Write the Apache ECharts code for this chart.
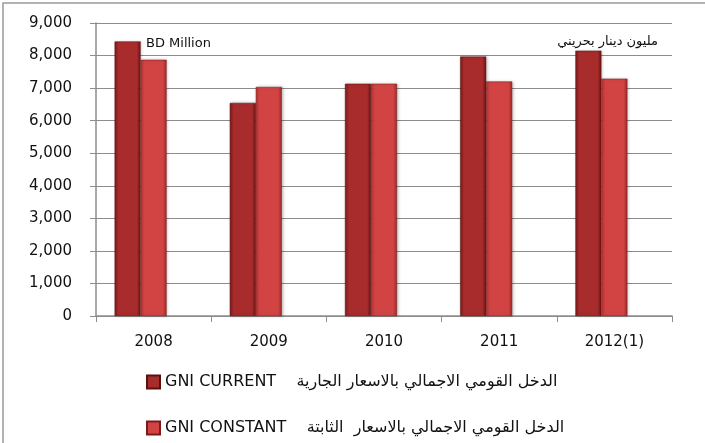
<!DOCTYPE html>
<html><head><meta charset="utf-8">
<script src="https://cdn.jsdelivr.net/npm/echarts@6/dist/echarts.min.js"></script>
<style>html,body{margin:0;padding:0;background:#fff}#c{width:705px;height:443px}</style>
</head><body><div id="c"></div>
<script>
const categories = ['2008', '2009', '2010', '2011', '2012(1)'];
const gniCurrent = [8435, 6545, 7135, 7970, 8150];
const gniConstant = [7870, 7035, 7135, 7205, 7290];
const seriesNames = ['GNI CURRENT    الدخل القومي الاجمالي بالاسعار الجارية', 'GNI CONSTANT    الدخل القومي الاجمالي بالاسعار  الثابتة'];
const yTicks = { min: 0, max: 9000, interval: 1000 };
const unitEn = 'BD Million';
const unitAr = 'مليون دينار بحريني';

const FONT = "'DejaVu Sans', sans-serif";
function grad(l, m, r) {
  return new echarts.graphic.LinearGradient(0, 0, 1, 0, [
    { offset: 0, color: l }, { offset: 0.15, color: m }, { offset: 0.85, color: m }, { offset: 1, color: r }
  ]);
}
const chart = echarts.init(document.getElementById('c'), null, { renderer: 'canvas' });
chart.setOption({
  backgroundColor: '#fff',
  animation: false,
  grid: { left: 96, right: 33, top: 23, bottom: 127 },
  legend: {
    orient: 'vertical', left: 146, top: 374, height: 200, width: 600, itemGap: 30, padding: 0,
    itemWidth: 13, itemHeight: 13, icon: 'rect',
    textStyle: { fontFamily: FONT, fontSize: 16, color: '#111' },
    data: seriesNames
  },
  graphic: [
    { type: 'rect', shape: { x: 3, y: 3, width: 720, height: 460 }, style: { fill: 'none', stroke: '#9a9a9a', lineWidth: 1.5 }, silent: true },
    { type: 'text', left: 146, top: 37, style: { text: unitEn, font: "13px " + FONT, fill: '#111' } },
    { type: 'text', right: 47, top: 35, style: { text: unitAr, font: "13px 'DejaVu Sans', sans-serif", fill: '#111' } }
  ],
  xAxis: {
    type: 'category', data: categories, boundaryGap: true,
    axisLine: { lineStyle: { color: '#8c8c8c', width: 1.5 } },
    axisTick: { show: true, length: 6, alignWithLabel: false, lineStyle: { color: '#8c8c8c' } },
    axisLabel: { fontFamily: FONT, fontSize: 15, color: '#111', margin: 19 }
  },
  yAxis: {
    type: 'value', min: yTicks.min, max: yTicks.max, interval: yTicks.interval,
    axisLine: { show: true, lineStyle: { color: '#8c8c8c', width: 1.5 } },
    axisTick: { show: true, length: 6, lineStyle: { color: '#8c8c8c' } },
    splitLine: { lineStyle: { color: '#8c8c8c', width: 1.2 } },
    axisLabel: { fontFamily: FONT, fontSize: 15, color: '#111', margin: 24,
      formatter: v => v.toLocaleString('en-US') }
  },
  series: [
    { name: seriesNames[0], type: 'bar', data: gniCurrent, barWidth: 26, barGap: '0%',
      itemStyle: { color: grad('#7e1a1a', '#a82c2c', '#6e1414'), borderColor: '#5a1010', borderWidth: 0.5,
        shadowColor: 'rgba(0,0,0,0.25)', shadowBlur: 3, shadowOffsetX: 1 } },
    { name: seriesNames[1], type: 'bar', data: gniConstant, barWidth: 26,
      itemStyle: { color: grad('#b83434', '#d24444', '#a02a2a'), borderColor: '#7a1a1a', borderWidth: 0.5,
        shadowColor: 'rgba(0,0,0,0.25)', shadowBlur: 3, shadowOffsetX: 1 } },
    { name: 'depth', type: 'bar', data: categories.map(() => null), barWidth: 26, silent: true }
  ]
});
</script></body></html>
